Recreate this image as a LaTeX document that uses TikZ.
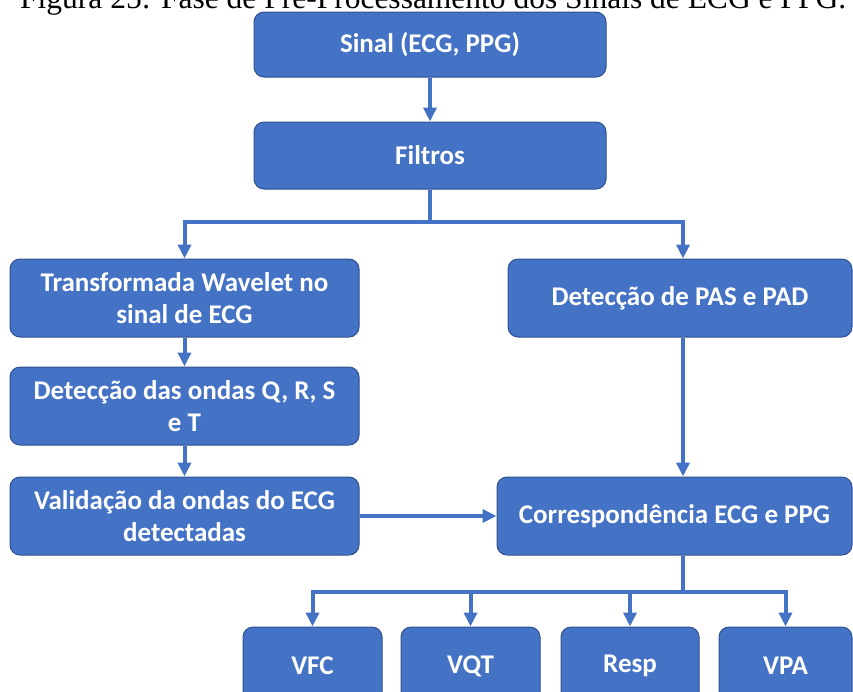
\documentclass[tikz,border=0pt]{standalone}
\usepackage{fontspec}
\setmainfont{Carlito}
\newfontfamily\titlefont{Liberation Serif}
\usetikzlibrary{arrows.meta}
\definecolor{boxblue}{HTML}{4472C4}
\definecolor{boxedge}{HTML}{2F528F}
\begin{document}
\begin{tikzpicture}[x=1pt,y=-1pt,
  stepbox/.style={draw=boxedge, line width=1pt, fill=boxblue, rounded corners=10pt,
    text=white, font=\fontsize{27}{31.5}\selectfont\bfseries, align=center, inner sep=0pt},
  link/.style={draw=boxblue, line width=4pt},
  arr/.style={link, -{Triangle[width=13pt,length=14pt]}}]
\useasboundingbox (0,0) rectangle (853,691);
\clip (0,0) rectangle (853,691);

% caption line
\node[anchor=base west, inner sep=0pt, font=\titlefont\fontsize{31.5}{37}\selectfont] (title) at (20,8.5)
  {Figura 25: Fase de Pré-Processamento dos Sinais de ECG e PPG.};

% processing steps
\node[stepbox, minimum width=352pt, minimum height=65pt] (sinal) at (430,44.5) {Sinal (ECG, PPG)};
\node[stepbox, minimum width=352pt, minimum height=67pt] (filtros) at (430,155.5) {Filtros};
\node[stepbox, minimum width=349pt, minimum height=78pt] (wavelet) at (184.5,298) {Transformada Wavelet no\\sinal de ECG};
\node[stepbox, minimum width=344pt, minimum height=78pt] (pas) at (680,298) {Detecção de PAS e PAD};
\node[stepbox, minimum width=349pt, minimum height=78pt] (ondas) at (184.5,406) {Detecção das ondas Q, R, S\\e T};
\node[stepbox, minimum width=349pt, minimum height=78pt] (valid) at (184.5,516) {Validação da ondas do ECG\\detectadas};
\node[stepbox, minimum width=355pt, minimum height=78pt] (corresp) at (674.5,516) {Correspondência ECG e PPG};

% outputs
\node[stepbox, minimum width=139pt, minimum height=78pt] (vfc) at (312.5,666) {VFC};
\node[stepbox, minimum width=139pt, minimum height=78pt] (vqt) at (470.5,666) {VQT};
\node[stepbox, minimum width=138pt, minimum height=78pt] (resp) at (630,666) {Resp};
\node[stepbox, minimum width=133pt, minimum height=78pt] (vpa) at (785.5,666) {VPA};

% branch points
\coordinate (spine) at (683,0);
\coordinate (split1) at (430,222);
\coordinate (split2) at (683,592);

% connectors
\draw[arr] (sinal) -- (filtros);
\draw[arr] (filtros.south) -- (split1) -| (wavelet.north);
\draw[arr] (split1) -| (pas.north -| spine);
\draw[arr] (wavelet) -- (ondas);
\draw[arr] (ondas) -- (valid);
\draw[arr] (valid.east) -- (corresp.west);
\draw[arr] (pas.south -| spine) -- (corresp.north -| spine);
\draw[link] (corresp.south -| spine) -- (split2);
\draw[arr] (split2) -| (vfc.north);
\draw[arr] (split2) -| (vqt.north);
\draw[arr] (split2) -| (resp.north);
\draw[arr] (split2) -| (vpa.north);
\end{tikzpicture}
\end{document}
